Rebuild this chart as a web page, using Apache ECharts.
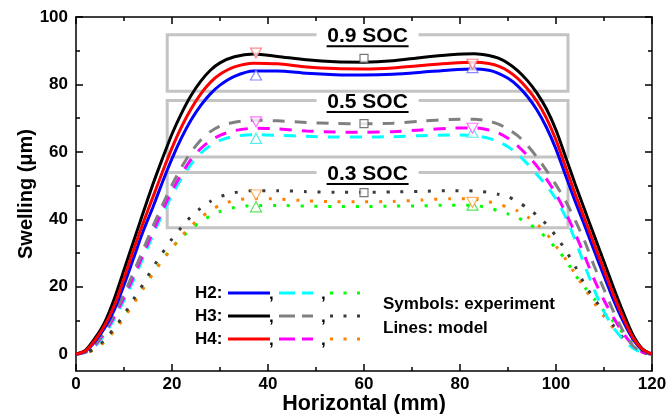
<!DOCTYPE html>
<html>
<head>
<meta charset="utf-8">
<script src="https://cdn.jsdelivr.net/npm/echarts@6/dist/echarts.min.js"></script>
<style>
  html, body { margin: 0; padding: 0; background: #fff; }
  #chart { width: 668px; height: 414px; }
</style>
</head>
<body>
<div id="chart"></div>
<script>
// Horizontal positions (mm) shared by every model profile
const xModel = [0, 2, 4, 6, 8, 10, 12, 14, 16, 18, 20, 22, 24, 26, 28, 30, 33, 37,
  42, 48, 54, 60, 66, 72, 78, 83, 86, 88, 90, 92, 94, 96, 98, 100, 102, 104, 106,
  108, 110, 112, 114, 116, 118, 120];

// Model swelling (µm) at 0.9 SOC
const h2Soc09 = [0, 0.9, 3.8, 7.8, 13.2, 20.5, 28.5, 36.5, 43.5, 51, 58, 64.2, 69.5, 73.8, 77.2, 79.8,
  82.4, 84, 84, 83.3, 82.9, 82.8, 83, 83.6, 84.3, 84.6, 84.2, 83.3,
  81.8, 79.6, 76.5, 72.5, 67.3, 60.8, 53, 45.3, 38, 30.5, 23.2, 16, 9.7, 4.5, 1.2, 0];
const h3Soc09 = [0, 1.2, 4.8, 9.5, 16.5, 25, 33.5, 42, 50.3, 58, 65.3, 71.5, 76.8, 81, 84.2, 86.4,
  88.2, 89, 88.3, 87.3, 86.7, 86.6, 87, 88, 88.8, 89.1, 88.6, 87.8,
  86.3, 84.1, 81.2, 77.5, 72.8, 66.5, 58.5, 50.4, 42.7, 35, 27.4, 19.7, 12.4, 5.8, 1.6, 0];
const h4Soc09 = [0, 1, 4.2, 8.6, 14.5, 22.5, 31, 39, 46.5, 54, 61.2, 67.5, 72.8, 77.2, 80.6, 83,
  85.2, 86.3, 86.1, 85.2, 84.7, 84.6, 84.9, 85.6, 86.3, 86.6, 86.2, 85.4,
  84, 81.8, 78.8, 75, 70, 63.5, 55.5, 47.5, 40, 32.4, 25, 17.5, 10.8, 5, 1.4, 0];

// Model swelling (µm) at 0.5 SOC
const h2Soc05 = [0, 0.5, 2.4, 5.9, 10.5, 16, 22, 28.6, 35.2, 41.5, 47.2, 52.2, 56.4, 59.6, 61.9, 63.4,
  64.6, 65.1, 64.9, 64.6, 64.4, 64.4, 64.5, 64.8, 65, 64.8, 64, 63,
  61.5, 59.3, 56.5, 53.3, 50, 46, 40.7, 33.8, 26.2, 19, 12.6, 7.8, 4.3, 1.8, 0.4, 0];
const h3Soc05 = [0, 0.7, 3, 7, 12, 17.8, 24.3, 31, 37.8, 44.2, 50.2, 55.5, 60, 63.5, 66, 67.6,
  68.8, 69.4, 69.2, 68.7, 68.4, 68.3, 68.5, 69.1, 69.6, 69.7, 69.1, 68.2,
  66.8, 64.8, 62, 58.5, 54.5, 50.2, 45.4, 39.7, 33.4, 26, 19.2, 12.6, 6.8, 2.5, 0.5, 0];
const h4Soc05 = [0, 0.6, 2.7, 6.4, 11.2, 16.8, 23, 29.6, 36.2, 42.6, 48.4, 53.5, 57.8, 61, 63.3, 64.9,
  66.3, 67, 66.8, 66.2, 65.9, 65.8, 66, 66.5, 67, 67.1, 66.5, 65.6,
  64, 61.8, 59, 55.8, 52, 47.5, 42, 35.8, 29, 22, 16, 10.8, 6.2, 2.7, 0.6, 0];

// Model swelling (µm) at 0.3 SOC
const h2Soc03 = [0, 0.3, 1.5, 3.8, 7.1, 11, 15.2, 19.6, 24, 28, 31.5, 34.6, 37.2, 39.3, 41, 42.3,
  43.5, 44.1, 44.1, 43.9, 43.8, 43.8, 43.9, 44, 44.2, 44.1, 43.4, 42.5,
  41.6, 40.5, 39, 37, 34.5, 31.4, 28, 23.5, 19.8, 16.3, 12.8, 9.6, 6.2, 3.4, 1, 0];
const h3Soc03 = [0, 0.4, 1.8, 4.3, 7.8, 11.7, 16.3, 20.8, 25.6, 30, 34.2, 37.7, 40.9, 43.3, 45.3, 46.7,
  47.9, 48.5, 48.5, 48.2, 48, 48, 48.1, 48.3, 48.5, 48.4, 48, 47.4,
  46.7, 45.2, 43.4, 41.2, 38.5, 35, 30.8, 26, 20.6, 16.4, 12.4, 8.4, 4.8, 2.2, 0.6, 0];
const h4Soc03 = [0, 0.3, 1.5, 3.8, 7, 10.8, 15, 19.4, 23.8, 27.8, 31.5, 35, 38, 40.5, 42.6, 44.2,
  45.6, 46.2, 46, 45.5, 45.2, 45.2, 45.3, 45.7, 46.1, 46, 45.2, 44.4,
  43.6, 42.5, 40.8, 38.6, 35.8, 32, 28.2, 23.8, 19.4, 15.1, 11.2, 7.6, 4.6, 2.2, 0.6, 0];

// Measured points [x mm, swelling µm]
const expH2 = [[37.5, 82.8], [82.6, 85.0], [37.5, 64.0], [82.6, 65.8], [37.5, 43.7], [82.6, 44.2]];
const expH3 = [[60, 87.7], [60, 68.4], [60, 47.9]];
const expH4 = [[37.5, 89.3], [82.6, 86.0], [37.5, 68.9], [82.6, 67.0], [37.5, 47.2], [82.6, 45.0]];
// marker colour per point of each H2 / H4 set
const expH2Colors = ['#6a6aff', '#6a6aff', '#33e6e6', '#33e6e6', '#33dd33', '#33dd33'];
const expH4Colors = ['#ff6a6a', '#ff6a6a', '#ff55ff', '#ff55ff', '#ff9a33', '#ff9a33'];

// SOC group frames: [label, bottom, top] spanning boxX
const boxX = [19, 102.5];
const socBoxes = [['0.9 SOC', 78, 94.7], ['0.5 SOC', 58.5, 75.2], ['0.3 SOC', 37.5, 53.9]];

// Axis ticks
const yMajor = [0, 20, 40, 60, 80, 100];
const yMinor = [10, 30, 50, 70, 90];

const FONT = '"Liberation Sans", Arial, Helvetica, sans-serif';
const AXIS = { color: '#000', width: 1.5 };

function pairs(ys) { return xModel.map((x, i) => [x, ys[i]]); }

function modelLine(name, ys, color, dash, width, z) {
  return {
    name, type: 'line', data: pairs(ys), smooth: 0.25, showSymbol: false, symbol: 'none',
    lineStyle: { color, width, type: dash }, z, silent: true
  };
}

function expSeries(name, pts, symbol, rotate, colors, stroke) {
  return {
    name, type: 'scatter', symbol, symbolRotate: rotate, symbolSize: symbol === 'rect' ? 8 : [11, 10],
    data: pts.map((p, i) => ({
      value: p,
      itemStyle: { color: '#fff', borderColor: colors ? colors[i] : stroke, borderWidth: 1.2 }
    })),
    z: 20, silent: true
  };
}

const DASH = [12, 10];
const DOT = [3, 10.8];

const series = [
  {
    name: 'frames', type: 'line', data: [], z: 1,
    markArea: {
      silent: true,
      itemStyle: { color: 'rgba(0,0,0,0)', borderColor: '#c4c4c4', borderWidth: 3 },
      label: {
        show: true, position: ['50%', 0], align: 'center', verticalAlign: 'middle', offset: [0, 4],
        backgroundColor: '#fff', padding: [0, 10],
        formatter: p => '{t|' + p.name + '}\n{u| }',
        rich: {
          t: { fontFamily: FONT, fontWeight: 'bold', fontSize: 21, lineHeight: 18, color: '#000', align: 'center' },
          u: { fontSize: 1, width: 82, height: 2, lineHeight: 2, backgroundColor: '#000', align: 'center' }
        }
      },
      data: socBoxes.map(b => [
        { name: b[0], coord: [boxX[0], b[2]] },
        { coord: [boxX[1], b[1]] }
      ])
    }
  },
  modelLine('H2 0.3', h2Soc03, '#00ff00', DOT, 3, 3),
  modelLine('H4 0.3', h4Soc03, '#ff8000', DOT, 3, 3),
  modelLine('H3 0.3', h3Soc03, '#3a3a3a', DOT, 3, 3),
  modelLine('H2 0.5', h2Soc05, '#00ffff', DASH, 3, 4),
  modelLine('H4 0.5', h4Soc05, '#ff00ff', DASH, 3, 4),
  modelLine('H3 0.5', h3Soc05, '#808080', DASH, 3, 4),
  modelLine('H2 0.9', h2Soc09, '#0000ff', 'solid', 3, 5),
  modelLine('H3 0.9', h3Soc09, '#000000', 'solid', 3, 5),
  modelLine('H4 0.9', h4Soc09, '#ff0000', 'solid', 3, 5),
  expSeries('H2 exp', expH2, 'triangle', 0, expH2Colors),
  expSeries('H3 exp', expH3, 'rect', 0, null, '#555'),
  expSeries('H4 exp', expH4, 'triangle', 180, expH4Colors)
];

const labelStyle = { fontFamily: FONT, fontWeight: 'bold', fontSize: 17, color: '#000' };

function xAx(pos, labels) {
  return {
    type: 'value', position: pos, min: 0, max: 120, interval: 20,
    axisLine: { show: true, onZero: false, lineStyle: AXIS },
    axisTick: { show: true, inside: true, length: 7, lineStyle: AXIS },
    minorTick: { show: true, splitNumber: 2, length: 4, lineStyle: AXIS },
    axisLabel: Object.assign({ show: labels, margin: 5 }, labelStyle),
    splitLine: { show: false }, minorSplitLine: { show: false },
    name: labels ? 'Horizontal (mm)' : '', nameLocation: 'middle', nameGap: 22, nameMoveOverlap: false,
    nameTextStyle: { fontFamily: FONT, fontWeight: 'bold', fontSize: 21.5, color: '#000' }
  };
}

function yAx(pos, ticks, len, labels, line) {
  return {
    type: 'value', position: pos, min: -5, max: 100, interval: 5,
    axisLine: { show: line, onZero: false, lineStyle: AXIS },
    axisTick: { show: true, inside: true, length: len, lineStyle: AXIS, customValues: ticks },
    axisLabel: Object.assign({ show: labels, margin: 8, customValues: ticks }, labelStyle),
    splitLine: { show: false },
    name: labels ? 'Swelling (\u03bcm)' : '', nameLocation: 'middle', nameGap: 40, nameMoveOverlap: false,
    nameTextStyle: { fontFamily: FONT, fontWeight: 'bold', fontSize: 20, color: '#000' }
  };
}

// Hand-made key in the lower-left corner
const KEY_FONT = 'bold 17px ' + FONT;
const keyRows = [
  { label: 'H2:', y: 293, colors: ['#0000ff', '#00ffff', '#00ff00'] },
  { label: 'H3:', y: 316, colors: ['#000000', '#808080', '#3a3a3a'] },
  { label: 'H4:', y: 339, colors: ['#ff0000', '#ff00ff', '#ff8000'] }
];
const graphic = [];
keyRows.forEach(r => {
  graphic.push({ type: 'text', x: 195, y: r.y, style: { text: r.label, font: KEY_FONT, fill: '#000', textVerticalAlign: 'middle' } });
  graphic.push({ type: 'line', shape: { x1: 228, y1: r.y, x2: 270, y2: r.y }, style: { stroke: r.colors[0], lineWidth: 3 } });
  graphic.push({ type: 'text', x: 269, y: r.y + 1, style: { text: ',', font: KEY_FONT, fill: '#000', textVerticalAlign: 'middle' } });
  graphic.push({ type: 'line', shape: { x1: 279, y1: r.y, x2: 313, y2: r.y }, style: { stroke: r.colors[1], lineWidth: 3, lineDash: [16, 7] } });
  graphic.push({ type: 'text', x: 321, y: r.y + 1, style: { text: ',', font: KEY_FONT, fill: '#000', textVerticalAlign: 'middle' } });
  graphic.push({ type: 'line', shape: { x1: 330, y1: r.y, x2: 362, y2: r.y }, style: { stroke: r.colors[2], lineWidth: 3, lineDash: [3, 10.5] } });
});
graphic.push({ type: 'text', x: 383, y: 304, style: { text: 'Symbols: experiment', font: 'bold 17px ' + FONT, fill: '#000', textVerticalAlign: 'middle' } });
graphic.push({ type: 'text', x: 383, y: 328, style: { text: 'Lines: model', font: 'bold 17px ' + FONT, fill: '#000', textVerticalAlign: 'middle' } });

const chart = echarts.init(document.getElementById('chart'), null, { renderer: 'canvas' });
chart.setOption({
  animation: false,
  backgroundColor: '#fff',
  grid: { left: 76, right: 16, top: 17, bottom: 43, containLabel: false, outerBoundsMode: 'none' },
  xAxis: [xAx('bottom', true), xAx('top', false)],
  yAxis: [
    yAx('left', yMajor, 7, true, true),
    yAx('left', yMinor, 4, false, false),
    yAx('right', yMajor, 7, false, true),
    yAx('right', yMinor, 4, false, false)
  ],
  series,
  graphic
});
</script>
</body>
</html>
